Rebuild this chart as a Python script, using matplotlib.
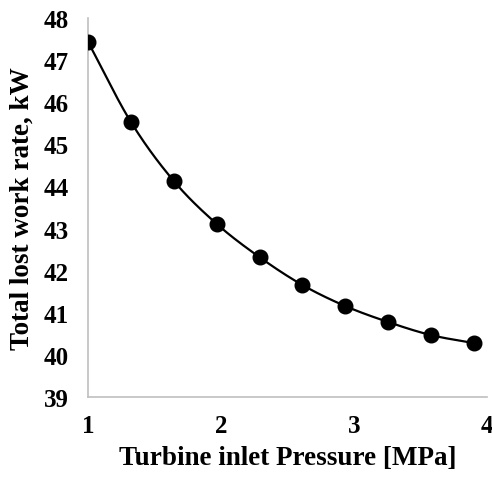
import numpy as np
import matplotlib
matplotlib.use('Agg')
import matplotlib.pyplot as plt

pressure = [1.0, 1.322, 1.644, 1.967, 2.289, 2.611, 2.933, 3.256, 3.578, 3.9]
lost_work = [47.43, 45.53, 44.13, 43.11, 42.32, 41.66, 41.16, 40.78, 40.47, 40.28]
xticks = [1, 2, 3, 4]
yticks = [39, 40, 41, 42, 43, 44, 45, 46, 47, 48]


def smooth(x, y, n=30):
    # catmull-rom style curve, like the excel "smoothed line"
    x = np.asarray(x)
    y = np.asarray(y)
    px = np.concatenate(([2 * x[0] - x[1]], x, [2 * x[-1] - x[-2]]))
    py = np.concatenate(([2 * y[0] - y[1]], y, [2 * y[-1] - y[-2]]))
    xs, ys = [], []
    t = np.linspace(0, 1, n)
    for i in range(1, len(px) - 2):
        for arr, out in ((px, xs), (py, ys)):
            p0, p1, p2, p3 = arr[i - 1], arr[i], arr[i + 1], arr[i + 2]
            out.append(0.5 * (2 * p1 + (-p0 + p2) * t
                              + (2 * p0 - 5 * p1 + 4 * p2 - p3) * t ** 2
                              + (-p0 + 3 * p1 - 3 * p2 + p3) * t ** 3))
    return np.concatenate(xs), np.concatenate(ys)


plt.rcParams['font.family'] = ['Liberation Serif', 'DejaVu Serif']
plt.rcParams['font.weight'] = 'bold'

fig = plt.figure(figsize=(4.92, 4.81), dpi=100)
ax = fig.add_axes([0.179, 0.1726, 0.811, 0.788])

sx, sy = smooth(pressure, lost_work)
ax.plot(sx, sy, color='black', lw=1.6, zorder=2)
ax.plot(pressure, lost_work, 'o', color='black', ms=10.5, zorder=3)

ax.set_xlim(1, 4)
ax.set_ylim(39, 48)
ax.set_xticks(xticks)
ax.set_yticks(yticks)
ax.tick_params(length=0, labelsize=18)
ax.tick_params(axis='x', pad=12)
ax.tick_params(axis='y', pad=14)
for lab in ax.get_xticklabels() + ax.get_yticklabels():
    lab.set_fontweight('bold')

for s in ['top', 'right']:
    ax.spines[s].set_visible(False)
for s in ['left', 'bottom']:
    ax.spines[s].set_color('#BFBFBF')
    ax.spines[s].set_linewidth(1.2)

ax.set_xlabel('Turbine inlet Pressure [MPa]', fontsize=19.5, fontweight='bold', labelpad=6)
ax.set_ylabel('Total lost work rate, kW', fontsize=19.5, fontweight='bold', labelpad=6)

plt.savefig('out.png', dpi=100)
